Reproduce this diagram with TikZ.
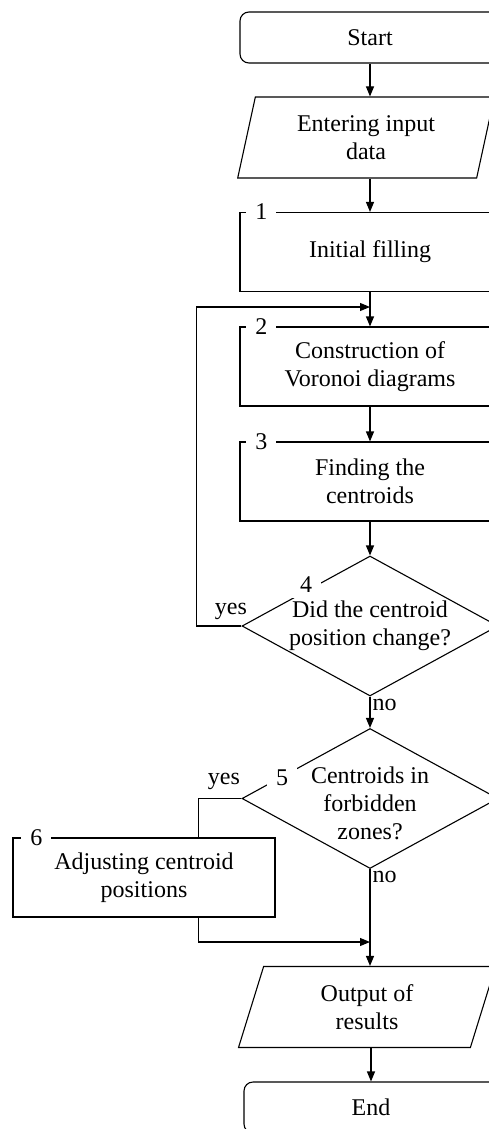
\documentclass[tikz,border=0pt]{standalone}
\usepackage{fontspec}
\setmainfont{Liberation Serif}
\usetikzlibrary{shapes.geometric,arrows.meta}

\begin{document}
\begin{tikzpicture}[
  x=1pt, y=-1pt,
  font=\fontsize{24}{28}\selectfont,
  line width=1.1pt,
  term/.style={rectangle, draw, rounded corners=9pt, minimum width=260pt, minimum height=51pt, inner sep=0pt},
  io/.style={trapezium, draw, trapezium left angle=76, trapezium right angle=104, trapezium stretches=true, minimum width=257pt, minimum height=81pt, inner sep=0pt, align=center},
  block/.style={rectangle, draw, minimum width=260pt, minimum height=79pt, inner sep=0pt, align=center},
  decision/.style={diamond, draw, aspect=1.83, minimum width=256pt, minimum height=140pt, inner sep=0pt},
  num/.style={fill=white, inner xsep=9pt, inner ysep=5pt},
  lbl/.style={inner sep=2pt},
  edge/.style={-{Triangle[length=10pt,width=8pt]}},
  line/.style={-}
]

% picture frame (right and bottom are cut off)
\useasboundingbox (0,0) rectangle (489,1129);
\clip (0,0) rectangle (489,1129);

%======================
% MAIN COLUMN
%======================

% nodes
\node[term] (start) at (370,37.5) {Start};
\node[io] (input) at (366,137.5) {Entering input\\data};
\node[block] (fill) at (370,252) {Initial filling};
\node[block] (voronoi) at (370,366.5) {Construction of\\Voronoi diagrams};
\node[block] (centroid) at (370,481.5) {Finding the\\centroids};
\node[decision] (changed) at (370,626) {};
\node[align=center] at (changed) {Did the centroid\\position change?};
\node[decision] (forbid) at (370,798.5) {};
\node[align=center] at ([yshift=-5pt]forbid.center) {Centroids in\\forbidden\\zones?};
\node[block, minimum width=262pt] (adjust) at (144,877.5) {Adjusting centroid\\positions};
\node[io] (output) at (367,1007) {Output of\\results};
\node[term, minimum width=254pt] (end) at (371,1107.5) {End};

% block numbers
\node[num] at ([xshift=22pt]fill.north west) {1};
\node[num] at ([xshift=22pt]voronoi.north west) {2};
\node[num] at ([xshift=22pt]centroid.north west) {3};
\node[num] at ([shift={(-64,-41)}]changed.center) {4};
\node[num] at ([shift={(-88,-20.5)}]forbid.center) {5};
\node[num] at ([xshift=24pt]adjust.north west) {6};

%======================
% CONNECTORS
%======================

\coordinate (loopin) at (370,307);
\coordinate (mergein) at (370,942);

% straight down
\draw[edge] (start) -- (start |- input.north);
\draw[edge] (input.south -| fill) -- (fill);
\draw[edge] (fill) -- (voronoi);
\draw[edge] (voronoi) -- (centroid);
\draw[edge] (centroid) -- (changed);

% loop back (yes)
\draw[edge] (changed.west) -- ++(-45,0) |- (loopin);
\node[lbl, anchor=south east] at ([shift={(8,-4)}]changed.west) {yes};

% no
\draw[edge] (changed.south) -- (forbid.north);
\node[lbl, anchor=north west] at (changed.south) {no};

% forbidden zones: yes branch
\draw[line] (forbid.west) -- ++(-43,0) coordinate (yesturn) -- (yesturn |- adjust.north);
\node[lbl, anchor=south east] at ([shift={(1,-6)}]forbid.west) {yes};
\draw[edge] (yesturn |- adjust.south) |- (mergein);

% forbidden zones: no branch
\draw[edge] (forbid.south) -- (forbid.south |- output.north);
\node[lbl, anchor=north west] at (forbid.south) {no};

% end
\draw[edge] (end.north |- output.south) -- (end.north);

\end{tikzpicture}
\end{document}
